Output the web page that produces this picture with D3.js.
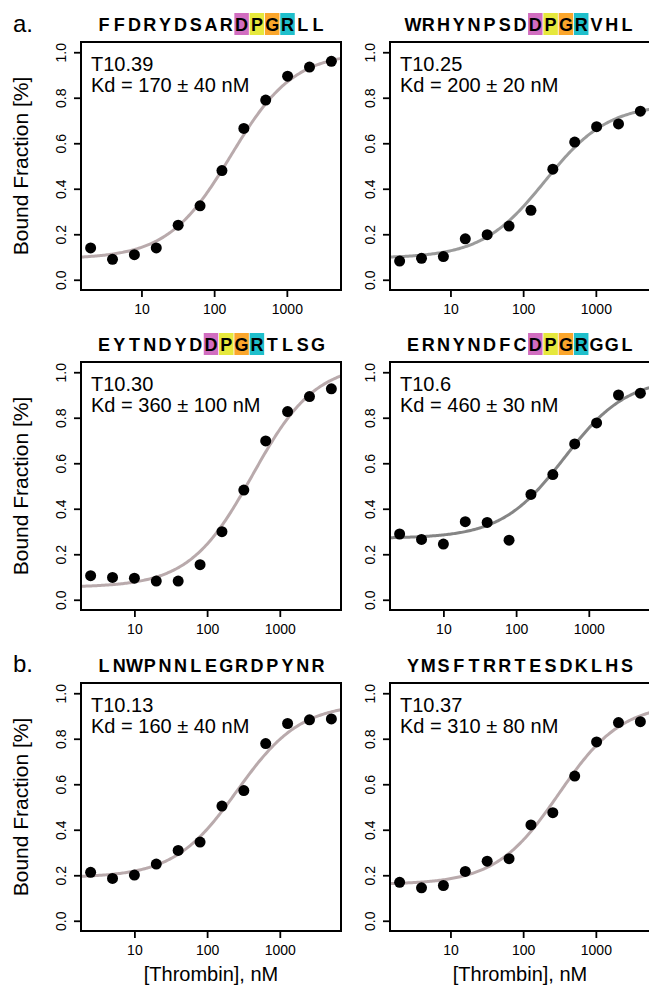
<!DOCTYPE html>
<html>
<head>
<meta charset="utf-8">
<script src="https://cdn.jsdelivr.net/npm/d3@7"></script>
<style>
  body { margin: 0; background: #fff; }
  text { font-family: "Liberation Sans", Arial, sans-serif; fill: #000; }
</style>
</head>
<body>
<div id="chart"></div>
<script>
(function() {
  // thrombin concentrations, nM (two dilution series)
  const concA = [2, 4, 8, 16, 32, 64, 128, 256, 512, 1024, 2048, 4096];
  const concB = [2.5, 5, 10, 20, 40, 80, 160, 320, 640, 1280, 2560, 5120];

  const names = ["T10.39", "T10.25", "T10.30", "T10.6", "T10.13", "T10.37"];
  const kdLabels = ["170 ± 40", "200 ± 20", "360 ± 100", "460 ± 30", "160 ± 40", "310 ± 80"];
  const sequences = ["FFDRYDSARDPGRLL", "WRHYNPSDDPGRVHL", "EYTNDYDDPGRTLSG",
                     "ERNYNDFCDPGRGGL", "LNWPNNLEGRDPYNR", "YMSFTRRTESDKLHS"];
  const motifStart = [9, 8, 7, 8, -1, -1];
  const motifColors = ["#d16dc0", "#e6e83c", "#fba62b", "#1fbfcb"];

  // bound fraction
  const bound39 = [0.14, 0.09, 0.11, 0.14, 0.24, 0.325, 0.48, 0.665, 0.79, 0.895, 0.935, 0.96];
  const bound25 = [0.082, 0.094, 0.102, 0.18, 0.198, 0.236, 0.305, 0.486, 0.605, 0.673, 0.685, 0.741];
  const bound30 = [0.106, 0.098, 0.095, 0.082, 0.082, 0.154, 0.299, 0.482, 0.698, 0.827, 0.893, 0.927];
  const bound6  = [0.289, 0.265, 0.245, 0.343, 0.34, 0.262, 0.463, 0.55, 0.685, 0.777, 0.9, 0.908];
  const bound13 = [0.213, 0.186, 0.201, 0.249, 0.309, 0.346, 0.504, 0.572, 0.779, 0.867, 0.883, 0.887];
  const bound37 = [0.169, 0.145, 0.155, 0.217, 0.262, 0.273, 0.421, 0.475, 0.636, 0.786, 0.871, 0.875];

  // one-site binding curve as drawn: bottom + (top - bottom) * c / (k + c)
  const fitK = [170, 200, 420, 460, 260, 310];
  const fitBottom = [0.092, 0.095, 0.055, 0.27, 0.19, 0.16];
  const fitTop = [1.0, 0.773, 1.04, 0.977, 0.955, 0.957];
  const curveColors = ["#b9aaac", "#9b9b9b", "#b9aaac", "#858585", "#b9aaac", "#b9aaac"];

  const yTicks = [0, 0.2, 0.4, 0.6, 0.8, 1.0];
  const xTicks = [10, 100, 1000];

  const panels = [
    { conc: concA, bound: bound39 },
    { conc: concA, bound: bound25 },
    { conc: concB, bound: bound30 },
    { conc: concB, bound: bound6 },
    { conc: concB, bound: bound13 },
    { conc: concA, bound: bound37 }
  ];

  const width = 649, height = 986;
  const colX = [81, 390];
  const rowY = [42, 362, 683];
  const plotW = 260, plotH = 248;

  const svg = d3.select('#chart')
    .append('svg')
      .attr('width', width)
      .attr('height', height);

  svg.append('rect')
    .attr('width', width)
    .attr('height', height)
    .attr('fill', '#fff');

  panels.forEach((p, i) => {
    const col = i % 2, row = Math.floor(i / 2);
    const g = svg.append('g')
      .attr('transform', `translate(${colX[col]}, ${rowY[row]})`);

    // R style axis range: data range + 4% each side
    const ext = d3.extent(p.conc).map(Math.log10);
    const pad = (ext[1] - ext[0]) * 0.04;
    const x = d3.scaleLog()
      .domain([Math.pow(10, ext[0] - pad), Math.pow(10, ext[1] + pad)])
      .range([0, plotW]);
    const y = d3.scaleLinear().domain([-0.045, 1.045]).range([plotH, 0]);

    // x axis
    const xa = g.append('g')
      .attr('transform', `translate(0, ${plotH})`)
      .call(d3.axisBottom(x).tickValues(xTicks).tickFormat(d3.format('d'))
        .tickSize(7).tickPadding(7));
    xa.select('.domain').remove();
    xa.selectAll('line').attr('stroke-width', 1.8);
    xa.selectAll('text').style('font-size', '14px').style('font-family', null);

    // y axis, labels rotated like R's las = 0
    const ya = g.append('g')
      .call(d3.axisLeft(y).tickValues(yTicks).tickFormat(d3.format('.1f')).tickSize(7));
    ya.select('.domain').remove();
    ya.selectAll('line').attr('stroke-width', 1.8);
    ya.selectAll('text')
      .style('font-size', '14px').style('font-family', null)
      .attr('transform', 'rotate(-90)')
      .attr('x', 0).attr('y', -15).attr('dy', 0)
      .attr('text-anchor', 'middle');

    // fitted curve
    const samples = d3.range(0, 201).map(k => x.invert(k * plotW / 200));
    const fit = c => fitBottom[i] + (fitTop[i] - fitBottom[i]) * c / (fitK[i] + c);
    g.append('path')
      .datum(samples)
      .attr('fill', 'none')
      .attr('stroke', curveColors[i])
      .attr('stroke-width', 3)
      .attr('d', d3.line().x(c => x(c)).y(c => y(fit(c))));

    // measured points
    g.selectAll('circle')
      .data(p.conc.map((c, k) => ({ c: c, v: p.bound[k] })))
      .enter().append('circle')
        .attr('cx', d => x(d.c))
        .attr('cy', d => y(d.v))
        .attr('r', 5.5)
        .attr('fill', '#000');

    // frame
    g.append('rect')
      .attr('width', plotW)
      .attr('height', plotH)
      .attr('fill', 'none')
      .attr('stroke', '#000')
      .attr('stroke-width', 2);

    g.append('text')
      .attr('x', 10).attr('y', 29)
      .style('font-size', '20px')
      .text(names[i]);
    g.append('text')
      .attr('x', 10).attr('y', 50)
      .style('font-size', '20px')
      .text(`Kd = ${kdLabels[i]} nM`);

    // peptide sequence with DPGR motif boxes
    const letters = sequences[i].split('');
    const slot = 15.3;
    const sx = d3.scaleBand()
      .domain(d3.range(letters.length))
      .range([plotW / 2 - slot * letters.length / 2, plotW / 2 + slot * letters.length / 2]);
    const seq = g.append('g').attr('transform', 'translate(0, -11)');
    if (motifStart[i] >= 0) {
      seq.selectAll('rect')
        .data(motifColors)
        .enter().append('rect')
          .attr('x', (d, k) => sx(motifStart[i] + k) + 0.4)
          .attr('width', sx.bandwidth() - 0.8)
          .attr('y', -18)
          .attr('height', 22)
          .attr('fill', d => d);
    }
    seq.selectAll('text')
      .data(letters)
      .enter().append('text')
        .attr('x', (d, k) => sx(k) + sx.bandwidth() / 2)
        .attr('text-anchor', 'middle')
        .style('font-size', '18px')
        .style('font-weight', 'bold')
        .text(d => d);

    if (col === 0) {
      g.append('text')
        .attr('transform', `translate(${28 - colX[0]}, ${plotH / 2}) rotate(-90)`)
        .attr('text-anchor', 'middle')
        .style('font-size', '21px')
        .text('Bound Fraction [%]');
    }
    if (row === 2) {
      g.append('text')
        .attr('x', plotW / 2)
        .attr('y', plotH + 50)
        .attr('text-anchor', 'middle')
        .style('font-size', '20px')
        .text('[Thrombin], nM');
    }
  });

  svg.append('text').attr('x', 13).attr('y', 32).style('font-size', '24px').text('a.');
  svg.append('text').attr('x', 13).attr('y', 672).style('font-size', '24px').text('b.');
})();
</script>
</body>
</html>
